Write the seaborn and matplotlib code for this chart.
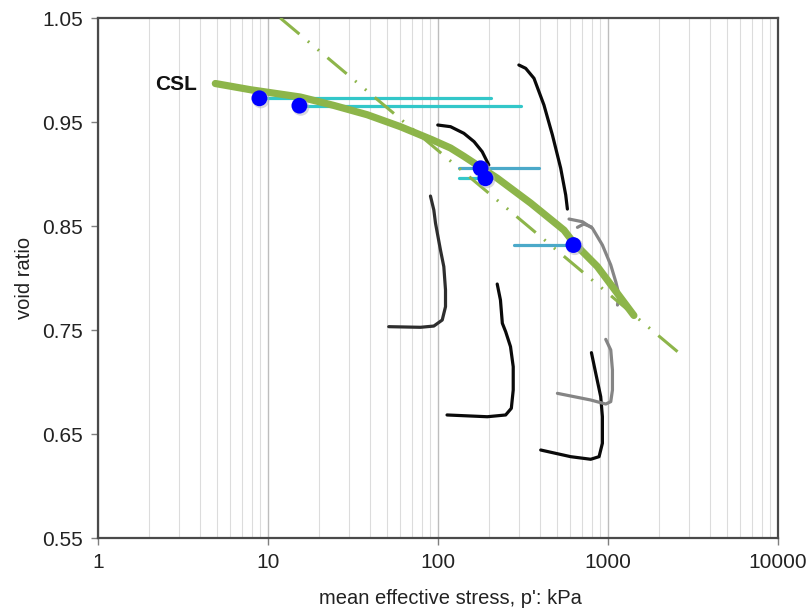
import numpy as np
import pandas as pd
import matplotlib
matplotlib.use("Agg")
import matplotlib.pyplot as plt
from matplotlib.ticker import LogLocator, NullFormatter
import seaborn as sns

# ---- critical state line (fitted curve), p' in kPa vs void ratio ----
csl_p = [4.9, 7.9, 15.5, 24.3, 38.3, 60.1, 92, 118.5, 142, 223, 351, 551, 628, 866, 1361, 1420]
csl_e = [0.987, 0.981, 0.974, 0.966, 0.957, 0.9455, 0.933, 0.925, 0.917, 0.896, 0.872,
         0.846, 0.834, 0.811, 0.768, 0.764]

# ---- straight reference line (semi-log) ----
ref_p = [11.8, 2750]
ref_e = [1.050, 0.725]

# ---- test end points with their stress ranges ----
pt_p = [8.9, 15.3, 178, 190, 626]
pt_e = [0.9728, 0.9657, 0.9055, 0.8959, 0.8317]
rng_lo = [8.9, 15.3, 133, 133, 280]
rng_hi = [206, 306, 393, 190, 626]
rng_colors = ["#33c7c9", "#33c7c9", "#4ba9c9", "#33c7c9", "#4ba9c9"]

# ---- stress paths ----
path_a_p = [99.7, 118.5, 142, 163, 182, 199]
path_a_e = [0.9471, 0.9455, 0.9391, 0.9311, 0.9214, 0.9087]

path_b_p = [299, 328, 367, 420, 471, 527, 564, 577]
path_b_e = [1.0048, 1.0016, 0.9920, 0.9663, 0.9375, 0.9055, 0.8798, 0.8663]

path_c_p = [90.3, 94.5, 96.7, 103.4, 108.2, 110.7, 110.7, 105.9, 94.5, 78.9, 51.3]
path_c_e = [0.8788, 0.8654, 0.8526, 0.8269, 0.8109, 0.7885, 0.7724, 0.7596, 0.7538, 0.7526, 0.7532]

path_d_p = [223, 233, 239, 250, 267, 277, 277, 270, 250, 195, 113]
path_d_e = [0.7942, 0.7788, 0.7565, 0.7484, 0.7340, 0.7147, 0.6923, 0.6747, 0.6683, 0.6666, 0.6683]

path_e_p = [590, 707, 810, 927, 1038, 1111, 1161, 1137]
path_e_e = [0.8567, 0.8541, 0.8478, 0.8317, 0.8125, 0.7964, 0.7837, 0.7740]
path_e2_p = [661, 720, 800]
path_e2_e = [0.8487, 0.8519, 0.8490]

path_f_p = [970, 1038, 1062, 1062, 1038, 970, 791, 504]
path_f_e = [0.7410, 0.7308, 0.7115, 0.6923, 0.6811, 0.6788, 0.6827, 0.6891]

path_g_p = [799, 847, 906, 927, 927, 886, 791, 603, 402]
path_g_e = [0.7282, 0.7084, 0.6859, 0.6666, 0.6411, 0.6282, 0.6257, 0.6282, 0.6346]

x_ticks = [1, 10, 100, 1000, 10000]
x_tick_labels = ["1", "10", "100", "1000", "10000"]
y_ticks = [0.55, 0.65, 0.75, 0.85, 0.95, 1.05]
y_tick_labels = ["0.55", "0.65", "0.75", "0.85", "0.95", "1.05"]

sns.set_theme(style="white")
plt.rcParams["font.family"] = ["Liberation Sans", "DejaVu Sans"]

fig = plt.figure(figsize=(8.06, 6.11), dpi=100)
ax = fig.add_axes([98 / 806, 1 - 538 / 611, 680 / 806, 520 / 611])
ax.set_xscale("log")
ax.set_xlim(1, 10000)
ax.set_ylim(0.55, 1.05)

# vertical grid lines only
ax.xaxis.set_major_locator(LogLocator(base=10))
ax.xaxis.set_minor_locator(LogLocator(base=10, subs=np.arange(2, 10)))
ax.xaxis.set_minor_formatter(NullFormatter())
ax.grid(True, axis="x", which="major", color="#bdbdbd", lw=1.0)
ax.grid(True, axis="x", which="minor", color="#dcdcdc", lw=0.8)
ax.grid(False, axis="y")
ax.set_axisbelow(True)


def draw_path(p, e, color, lw=2.3, z=3):
    df = pd.DataFrame({"p": p, "e": e})
    sns.lineplot(data=df, x="p", y="e", sort=False, estimator=None, ax=ax,
                 color=color, lw=lw, zorder=z, solid_capstyle="round",
                 solid_joinstyle="round")


# stress paths
draw_path(path_a_p, path_a_e, "#0a0a0a")
draw_path(path_b_p, path_b_e, "#0a0a0a")
draw_path(path_c_p, path_c_e, "#2e2e2e")
draw_path(path_d_p, path_d_e, "#0a0a0a")
draw_path(path_g_p, path_g_e, "#0a0a0a")
draw_path(path_e_p, path_e_e, "#858585")
draw_path(path_e2_p, path_e2_e, "#858585")
draw_path(path_f_p, path_f_e, "#858585")

# stress ranges
for lo, hi, e, c in zip(rng_lo, rng_hi, pt_e, rng_colors):
    draw_path([lo, hi], [e, e], c, lw=2.3, z=4)

# reference straight line
ref_df = pd.DataFrame({"p": ref_p, "e": ref_e})
sns.lineplot(data=ref_df, x="p", y="e", sort=False, estimator=None, ax=ax,
             color="#8db54a", lw=2.2, zorder=5,
             dashes=False, linestyle=(0, (8.2, 3.6, 0.6, 3.6, 0.6, 3.6)))

# critical state line
csl_df = pd.DataFrame({"p": csl_p, "e": csl_e})
sns.lineplot(data=csl_df, x="p", y="e", sort=False, estimator=None, ax=ax,
             color="#8db54a", lw=5.2, zorder=6, solid_capstyle="round",
             solid_joinstyle="round")

# end points (soft shadow, then the marker)
pt_df = pd.DataFrame({"p": pt_p, "e": pt_e})
sns.scatterplot(x=[v * 1.02 for v in pt_p], y=[v - 0.0015 for v in pt_e],
                ax=ax, color="#b0b0c0", s=150, edgecolor="none", alpha=0.5, zorder=7)
sns.scatterplot(data=pt_df, x="p", y="e", ax=ax, color="#0000ff", s=130,
                edgecolor="none", zorder=8)

ax.text(2.88, 0.9865, "CSL", fontsize=15, fontweight="bold", ha="center",
        va="center", color="#111111")

ax.set_xticks(x_ticks)
ax.set_xticklabels(x_tick_labels)
ax.set_yticks(y_ticks)
ax.set_yticklabels(y_tick_labels)
ax.tick_params(axis="both", which="major", labelsize=15, length=5, width=1,
               color="#808080", direction="out", labelcolor="#222222", pad=6)
ax.tick_params(axis="x", which="minor", length=0)
ax.tick_params(left=True, bottom=True)

ax.set_xlabel("mean effective stress, p': kPa", fontsize=14.5, color="#222222")
ax.set_ylabel("void ratio", fontsize=14.5, color="#222222")
ax.xaxis.set_label_coords((450 - 98) / 680, -0.098)
ax.yaxis.set_label_coords(-0.094, 0.5)

for side in ["left", "bottom", "right", "top"]:
    ax.spines[side].set_visible(True)
    ax.spines[side].set_color("#4a4a4a")
    ax.spines[side].set_linewidth(1.6)

fig.savefig("out.png", dpi=100)
